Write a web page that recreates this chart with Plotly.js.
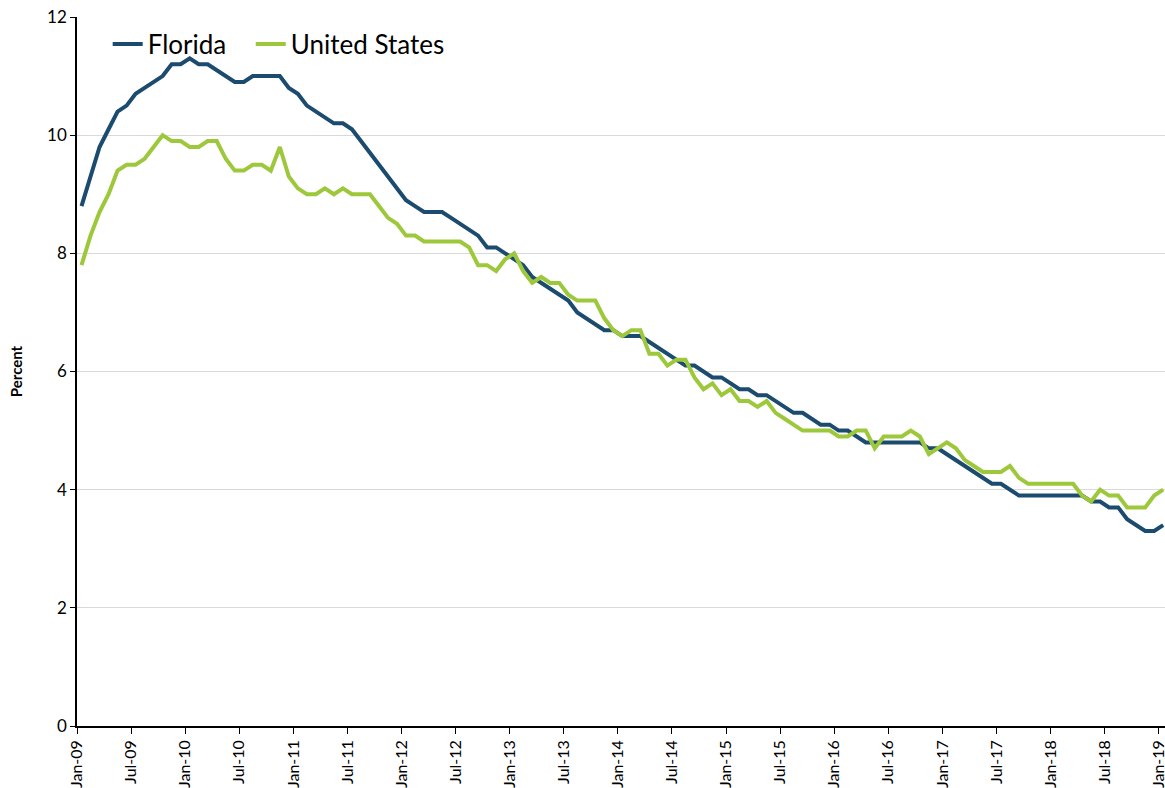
<!DOCTYPE html>
<html>
<head>
<meta charset="utf-8">
<script src="https://cdn.plot.ly/plotly-3.0.1.min.js"></script>
<style>html,body{margin:0;padding:0;overflow:hidden;background:#ffffff}</style>
</head>
<body>
<div id="chart" style="width:1165px;height:788px"></div>
<script>
// Month categories Jan-09 .. Jan-19
const monthNames = ['Jan','Feb','Mar','Apr','May','Jun','Jul','Aug','Sep','Oct','Nov','Dec'];
const years = ['09','10','11','12','13','14','15','16','17','18'];
const months = [];
years.forEach(y => monthNames.forEach(m => months.push(m + '-' + y)));
months.push('Jan-19');

// Unemployment rate, percent
const florida = [
  8.8, 9.3, 9.8, 10.1, 10.4, 10.5, 10.7, 10.8, 10.9, 11.0, 11.2, 11.2,
  11.3, 11.2, 11.2, 11.1, 11.0, 10.9, 10.9, 11.0, 11.0, 11.0, 11.0, 10.8,
  10.7, 10.5, 10.4, 10.3, 10.2, 10.2, 10.1, 9.9, 9.7, 9.5, 9.3, 9.1,
  8.9, 8.8, 8.7, 8.7, 8.7, 8.6, 8.5, 8.4, 8.3, 8.1, 8.1, 8.0,
  7.9, 7.8, 7.6, 7.5, 7.4, 7.3, 7.2, 7.0, 6.9, 6.8, 6.7, 6.7,
  6.6, 6.6, 6.6, 6.5, 6.4, 6.3, 6.2, 6.1, 6.1, 6.0, 5.9, 5.9,
  5.8, 5.7, 5.7, 5.6, 5.6, 5.5, 5.4, 5.3, 5.3, 5.2, 5.1, 5.1,
  5.0, 5.0, 4.9, 4.8, 4.8, 4.8, 4.8, 4.8, 4.8, 4.8, 4.7, 4.7,
  4.6, 4.5, 4.4, 4.3, 4.2, 4.1, 4.1, 4.0, 3.9, 3.9, 3.9, 3.9,
  3.9, 3.9, 3.9, 3.9, 3.8, 3.8, 3.7, 3.7, 3.5, 3.4, 3.3, 3.3,
  3.4
];
const unitedStates = [
  7.8, 8.3, 8.7, 9.0, 9.4, 9.5, 9.5, 9.6, 9.8, 10.0, 9.9, 9.9,
  9.8, 9.8, 9.9, 9.9, 9.6, 9.4, 9.4, 9.5, 9.5, 9.4, 9.8, 9.3,
  9.1, 9.0, 9.0, 9.1, 9.0, 9.1, 9.0, 9.0, 9.0, 8.8, 8.6, 8.5,
  8.3, 8.3, 8.2, 8.2, 8.2, 8.2, 8.2, 8.1, 7.8, 7.8, 7.7, 7.9,
  8.0, 7.7, 7.5, 7.6, 7.5, 7.5, 7.3, 7.2, 7.2, 7.2, 6.9, 6.7,
  6.6, 6.7, 6.7, 6.3, 6.3, 6.1, 6.2, 6.2, 5.9, 5.7, 5.8, 5.6,
  5.7, 5.5, 5.5, 5.4, 5.5, 5.3, 5.2, 5.1, 5.0, 5.0, 5.0, 5.0,
  4.9, 4.9, 5.0, 5.0, 4.7, 4.9, 4.9, 4.9, 5.0, 4.9, 4.6, 4.7,
  4.8, 4.7, 4.5, 4.4, 4.3, 4.3, 4.3, 4.4, 4.2, 4.1, 4.1, 4.1,
  4.1, 4.1, 4.1, 3.9, 3.8, 4.0, 3.9, 3.9, 3.7, 3.7, 3.7, 3.9,
  4.0
];
const tickLabels = ['Jan-09','Jul-09','Jan-10','Jul-10','Jan-11','Jul-11','Jan-12','Jul-12',
  'Jan-13','Jul-13','Jan-14','Jul-14','Jan-15','Jul-15','Jan-16','Jul-16','Jan-17','Jul-17',
  'Jan-18','Jul-18','Jan-19'];
const yTicks = [0, 2, 4, 6, 8, 10, 12];

const idx = months.map((_, i) => i);
const tickPos = tickLabels.map(l => months.indexOf(l) - 0.5);

const FONT = 'Lato, "Open Sans", sans-serif';

const traces = [
  {x: idx, y: florida, text: months, name: 'Florida', type: 'scatter', mode: 'lines',
   legend: 'legend',
   line: {color: '#1b4b6f', width: 4}, hovertemplate: '%{text}: %{y}%<extra>Florida</extra>'},
  {x: idx, y: unitedStates, text: months, name: 'United States', type: 'scatter', mode: 'lines',
   legend: 'legend2',
   line: {color: '#9dc83b', width: 4}, hovertemplate: '%{text}: %{y}%<extra>United States</extra>'}
];

const legendBase = {orientation: 'h', y: 0.995, xanchor: 'left', yanchor: 'top',
  font: {size: 26, family: FONT, color: '#000000'}, bgcolor: 'rgba(0,0,0,0)'};

const layout = {
  width: 1165, height: 788,
  margin: {l: 77, r: 0, t: 17, b: 62},
  paper_bgcolor: '#ffffff', plot_bgcolor: '#ffffff',
  font: {family: FONT, color: '#000000'},
  showlegend: true,
  legend: Object.assign({}, legendBase, {x: 0.0282}),
  legend2: Object.assign({}, legendBase, {x: 0.1597}),
  xaxis: {
    type: 'linear', range: [-0.5, 120.2],
    tickmode: 'array', tickvals: tickPos, ticktext: tickLabels,
    tickangle: -90, ticks: 'outside', ticklen: 6, tickcolor: '#000000', tickwidth: 1,
    ticklabelshift: 4.5, ticklabeloverflow: 'allow',
    tickfont: {size: 16, family: FONT, color: '#000000'},
    showgrid: false, zeroline: false,
    showline: true, linecolor: '#000000', linewidth: 1.5
  },
  yaxis: {
    range: [0, 12], tickmode: 'array', tickvals: yTicks,
    ticks: 'outside', ticklen: 5, tickcolor: '#000000', tickwidth: 1,
    tickfont: {size: 17, family: FONT, color: '#000000'},
    showgrid: true, gridcolor: '#d9d9d9', gridwidth: 1,
    zeroline: false, showline: true, linecolor: '#000000', linewidth: 1.5,
    title: {text: 'Percent', font: {size: 15, family: FONT, color: '#000000', weight: 'bold'}, standoff: 21}
  }
};

Plotly.newPlot('chart', traces, layout, {displayModeBar: false, staticPlot: false});
</script>
</body>
</html>
